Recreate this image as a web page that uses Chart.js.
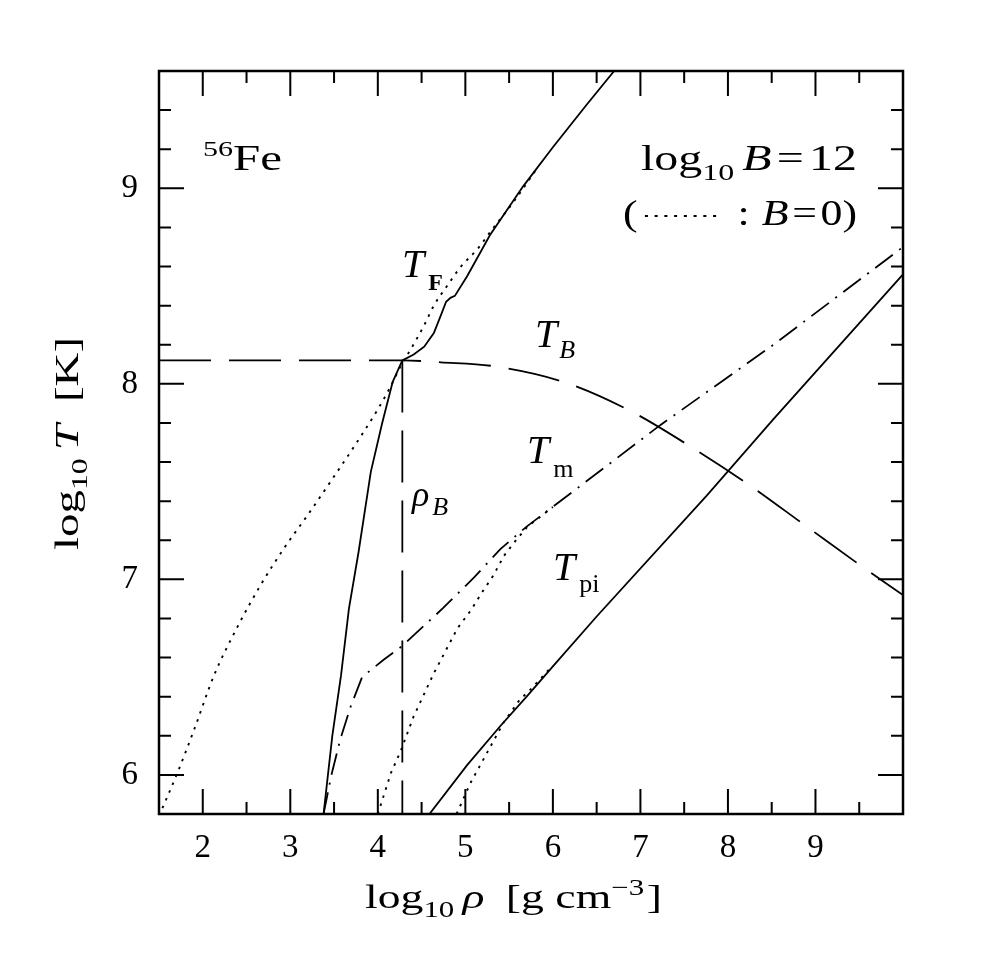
<!DOCTYPE html>
<html><head><meta charset="utf-8">
<script src="https://cdn.jsdelivr.net/npm/chart.js@4.4.1/dist/chart.umd.min.js"></script>
<style>html,body{margin:0;padding:0;background:#fff;}canvas{display:block;}</style>
</head><body>
<canvas id="c" width="996" height="958"></canvas>
<script>
// ---- data (log10 rho [g cm^-3], log10 T [K]) ----
const xTickValues = [2, 3, 4, 5, 6, 7, 8, 9];
const yTickValues = [6, 7, 8, 9];

// T_F, log B = 12 (solid)
const tfRho = [3.38, 3.48, 3.58, 3.67, 3.78, 3.92, 4.05, 4.17, 4.28, 4.41, 4.53, 4.64, 4.72, 4.78, 4.83, 4.88, 5.02, 5.28, 5.66, 6.00, 6.39, 6.70];
const tfT   = [5.80, 6.20, 6.51, 6.85, 7.14, 7.55, 7.80, 8.01, 8.12, 8.15, 8.19, 8.26, 8.35, 8.42, 8.44, 8.45, 8.55, 8.76, 9.01, 9.21, 9.43, 9.60];
// T_F, B = 0 (dotted)
const tf0Rho = [1.50, 1.71, 1.90, 2.13, 2.40, 2.66, 2.93, 3.20, 3.46, 3.73, 4.00, 4.15, 4.26, 4.38, 4.53, 4.64, 4.79, 4.95, 5.14, 5.29, 5.55, 5.80];
const tf0T   = [5.79, 6.01, 6.23, 6.51, 6.76, 6.97, 7.16, 7.33, 7.50, 7.68, 7.87, 7.99, 8.09, 8.18, 8.30, 8.40, 8.50, 8.60, 8.69, 8.78, 8.93, 9.09];
// T_B (dashed)
const tbRho = [1.50, 4.28, 4.72, 5.33, 6.12, 6.89, 7.57, 8.22, 8.90, 9.55, 10.0];
const tbT   = [8.12, 8.12, 8.11, 8.09, 8.01, 7.86, 7.68, 7.49, 7.27, 7.06, 6.92];
// rho_B (vertical dashed)
const rhoBRho = [4.28, 4.28];
const rhoBT   = [8.12, 5.70];
// T_m, log B = 12 (dash-dot)
const tmRho = [3.38, 3.47, 3.57, 3.69, 3.82, 4.07, 4.28, 4.75, 5.10, 5.40, 5.70, 6.32, 7.23, 8.52, 10.0];
const tmT   = [5.80, 6.00, 6.18, 6.35, 6.50, 6.59, 6.66, 6.855, 7.01, 7.155, 7.27, 7.48, 7.79, 8.20, 8.70];
// T_m, B = 0 (dotted)
const tm0Rho = [4.00, 4.15, 4.26, 4.41, 4.64, 4.91, 5.06, 5.20, 5.32, 5.44, 5.56, 5.71, 6.00];
const tm0T   = [5.80, 6.01, 6.12, 6.30, 6.52, 6.75, 6.84, 6.94, 7.02, 7.12, 7.19, 7.27, 7.37];
// T_pi, log B = 12 (solid)
const tpRho = [4.59, 5.02, 5.40, 5.71, 6.01, 6.50, 7.76, 8.52, 10.0];
const tpT   = [5.80, 6.05, 6.25, 6.405, 6.56, 6.81, 7.43, 7.82, 8.56];
// T_pi, B = 0 (dotted)
const tp0Rho = [4.90, 5.06, 5.25, 5.44, 5.63, 5.71, 6.00];
const tp0T   = [5.80, 5.96, 6.115, 6.27, 6.39, 6.42, 6.56];

const SERIF = '"Liberation Serif", "Times New Roman", serif';
function fnt(size, italic, bold) { return (italic ? 'italic ' : '') + (bold ? 'bold ' : '') + size + 'px ' + SERIF; }
function pts(xs, ys) { return xs.map((v, i) => ({ x: v, y: ys[i] })); }

const DOT = [2.5, 6];
const DASH = [52, 18];
const DASHDOT = [22, 8, 2, 8];
function ds(xs, ys, dash, extra) {
  return Object.assign({
    data: pts(xs, ys), showLine: true, pointRadius: 0, borderColor: '#000',
    borderWidth: dash === DOT ? 1.9 : 1.8, borderDash: dash || [], tension: 0, fill: false
  }, extra || {});
}

function drawRich(ctx, x, y, parts, width, rot) {
  ctx.save();
  ctx.translate(x, y);
  if (rot) ctx.rotate(rot);
  let total = 0;
  for (const p of parts) {
    total += (p.dx || 0);
    if (p.line) total += p.line;
    else { ctx.font = p.font; total += ctx.measureText(p.t).width; }
  }
  if (width) ctx.scale(width / total, 1);
  ctx.fillStyle = '#000'; ctx.strokeStyle = '#000';
  ctx.textBaseline = 'alphabetic'; ctx.textAlign = 'left';
  let cx = 0;
  for (const p of parts) {
    cx += (p.dx || 0);
    if (p.line) {
      ctx.save(); ctx.setLineDash(p.dash); ctx.lineWidth = 1.9;
      ctx.beginPath(); ctx.moveTo(cx, p.dy || 0); ctx.lineTo(cx + p.line, p.dy || 0); ctx.stroke();
      ctx.restore(); cx += p.line;
    } else {
      ctx.font = p.font; ctx.fillText(p.t, cx, p.dy || 0); cx += ctx.measureText(p.t).width;
    }
  }
  ctx.restore();
}

const framePlugin = {
  id: 'frame',
  beforeDraw(chart) {
    const c = chart.ctx; c.save(); c.fillStyle = '#fff'; c.fillRect(0, 0, chart.width, chart.height); c.restore();
  },
  afterDraw(chart) {
    const ctx = chart.ctx, a = chart.chartArea, xs = chart.scales.x, ys = chart.scales.y;
    ctx.save();
    ctx.strokeStyle = '#000';
    ctx.lineWidth = 2;
    const MAJ = 25, MIN = 12;
    ctx.beginPath();
    const xMinor = []; for (let v = 2.5; v < 10; v += 1) xMinor.push(v);
    const yMinor = []; for (let k = 30; k < 48; k++) { const v = k / 5; if (Math.abs(v - Math.round(v)) > 1e-6) yMinor.push(v); }
    const vt = (v, len) => { const p = xs.getPixelForValue(v); ctx.moveTo(p, a.bottom); ctx.lineTo(p, a.bottom - len); ctx.moveTo(p, a.top); ctx.lineTo(p, a.top + len); };
    const ht = (v, len) => { const p = ys.getPixelForValue(v); ctx.moveTo(a.left, p); ctx.lineTo(a.left + len, p); ctx.moveTo(a.right, p); ctx.lineTo(a.right - len, p); };
    xTickValues.forEach(v => vt(v, MAJ)); xMinor.forEach(v => vt(v, MIN));
    yTickValues.forEach(v => ht(v, MAJ)); yMinor.forEach(v => ht(v, MIN));
    ctx.stroke();
    ctx.lineWidth = 2.5;
    ctx.strokeRect(a.left, a.top, a.right - a.left, a.bottom - a.top);
    ctx.restore();

    // annotations
    drawRich(ctx, 203, 170, [{ t: '56', font: fnt(22), dy: -14 }, { t: 'Fe', font: fnt(36) }], 79);
    drawRich(ctx, 641, 170, [
      { t: 'log', font: fnt(36) }, { t: '10', font: fnt(24), dy: 10 },
      { t: 'B', font: fnt(36, true), dx: 6 }, { t: '=', font: fnt(36), dx: 4 }, { t: '12', font: fnt(36), dx: 4 }
    ], 216);
    drawRich(ctx, 623, 225, [
      { t: '(', font: fnt(36) }, { line: 62, dy: -9, dash: [2.5, 5.5], dx: 6 },
      { t: ':', font: fnt(36), dx: 14 }, { t: 'B', font: fnt(36, true), dx: 10 },
      { t: '=', font: fnt(36), dx: 3 }, { t: '0)', font: fnt(36), dx: 3 }
    ], 234);
    drawRich(ctx, 402, 277, [{ t: 'T', font: fnt(40, true) }, { t: 'F', font: fnt(24, false, true), dy: 13, dx: 4 }]);
    drawRich(ctx, 535, 347, [{ t: 'T', font: fnt(40, true) }, { t: 'B', font: fnt(26, true), dy: 11, dx: 2 }]);
    drawRich(ctx, 527, 463, [{ t: 'T', font: fnt(40, true) }, { t: 'm', font: fnt(26), dy: 14, dx: 4 }]);
    drawRich(ctx, 553, 580, [{ t: 'T', font: fnt(40, true) }, { t: 'pi', font: fnt(26), dy: 12, dx: 4 }]);
    drawRich(ctx, 412, 506, [{ t: 'ρ', font: fnt(36, true) }, { t: 'B', font: fnt(26, true), dy: 9, dx: 3 }]);

    // axis titles
    drawRich(ctx, 365, 908, [
      { t: 'log', font: fnt(34) }, { t: '10', font: fnt(23), dy: 9 },
      { t: 'ρ', font: fnt(34, true), dx: 6 }, { t: '[g cm', font: fnt(34), dx: 16 },
      { t: '−3', font: fnt(23), dy: -13 }, { t: ']', font: fnt(34), dx: 2 }
    ], 297);
    drawRich(ctx, 78, 550, [
      { t: 'log', font: fnt(34) }, { t: '10', font: fnt(23), dy: 9 },
      { t: 'T', font: fnt(34, true), dx: 6 }, { t: '[K]', font: fnt(34), dx: 16 }
    ], 213, -Math.PI / 2);
  }
};

new Chart(document.getElementById('c'), {
  type: 'scatter',
  data: {
    datasets: [
      ds(tfRho, tfT, null),
      ds(tf0Rho, tf0T, DOT, { cubicInterpolationMode: 'monotone' }),
      ds(tbRho, tbT, DASH, { cubicInterpolationMode: 'monotone' }),
      ds(rhoBRho, rhoBT, DASH),
      ds(tmRho, tmT, DASHDOT),
      ds(tm0Rho, tm0T, DOT),
      ds(tpRho, tpT, null),
      ds(tp0Rho, tp0T, DOT)
    ]
  },
  options: {
    responsive: false, animation: false, devicePixelRatio: 1,
    layout: { padding: { top: 71, right: 93, bottom: 0, left: 0 } },
    plugins: { legend: { display: false }, tooltip: { enabled: false } },
    scales: {
      x: {
        type: 'linear', min: 1.5, max: 10,
        grid: { display: false, drawTicks: false }, border: { display: false },
        afterBuildTicks: s => { s.ticks = xTickValues.map(v => ({ value: v })); },
        afterFit: s => { s.height = 144; },
        ticks: { font: { family: SERIF, size: 33 }, color: '#000', padding: 15, maxRotation: 0, autoSkip: false }
      },
      y: {
        type: 'linear', min: 5.8, max: 9.6,
        grid: { display: false, drawTicks: false }, border: { display: false },
        afterBuildTicks: s => { s.ticks = yTickValues.map(v => ({ value: v })); },
        afterFit: s => { s.width = 159; },
        ticks: { font: { family: SERIF, size: 33 }, color: '#000', padding: 21, autoSkip: false }
      }
    }
  },
  plugins: [framePlugin]
});
</script>
</body></html>
